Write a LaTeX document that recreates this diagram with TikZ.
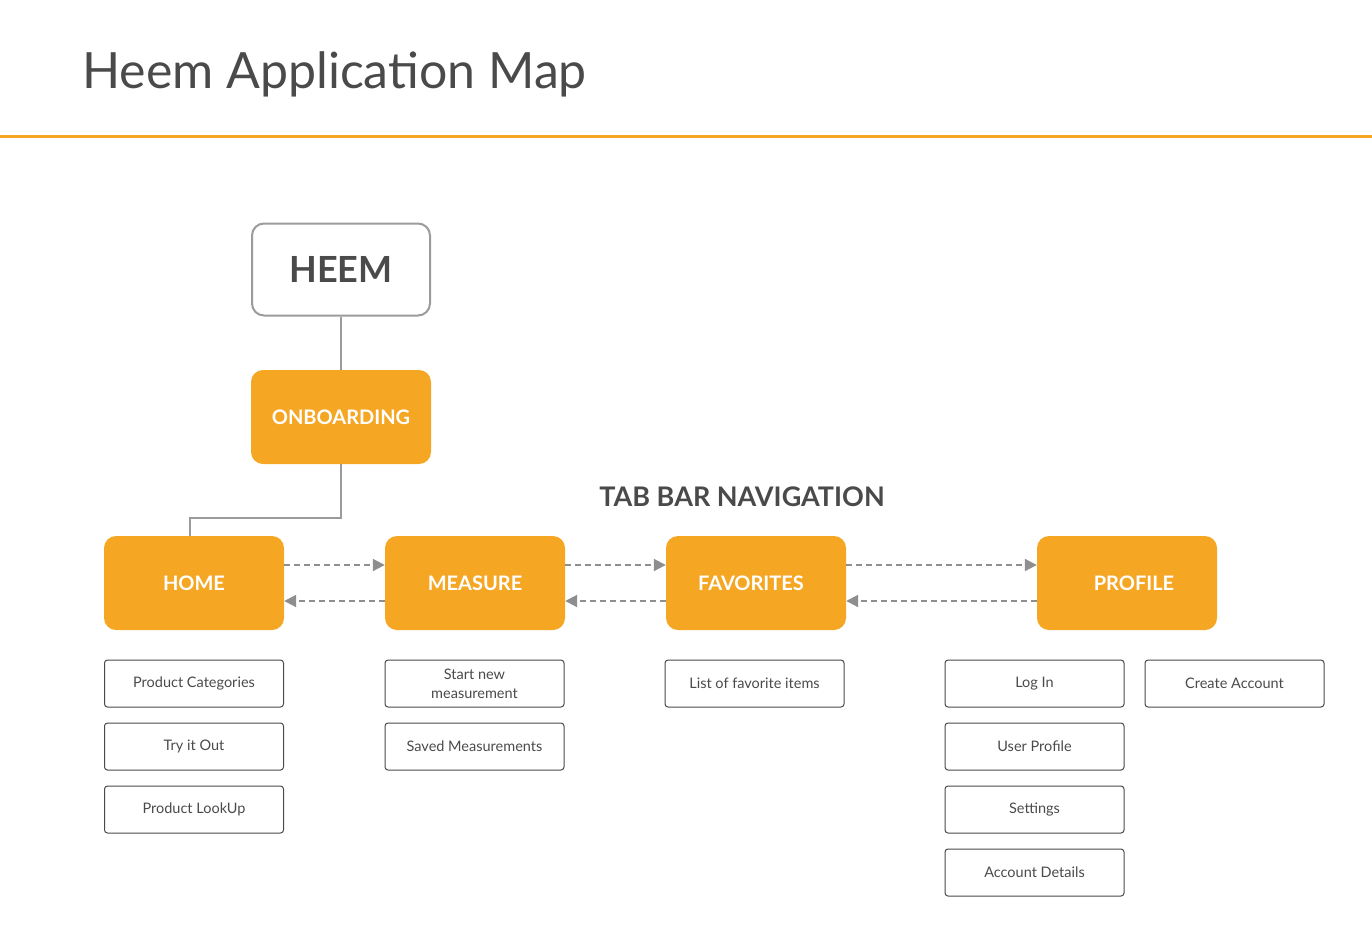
\documentclass[tikz,border=0pt]{standalone}
\usepackage{fontspec}
\setmainfont{Lato}
\usetikzlibrary{arrows.meta}
\definecolor{heemorange}{HTML}{F5A623}
\definecolor{heemgray}{HTML}{4A4A4A}
\definecolor{linegray}{HTML}{8E8E8E}
\definecolor{framegray}{HTML}{9B9B9B}
\begin{document}
\begin{tikzpicture}[x=1pt, y=-1pt]
        \tikzset{
            tab/.style={
                    rectangle,
                    rounded corners=12pt,
                    fill=heemorange,
                    text=white,
                    minimum width=180pt,
                    minimum height=94pt,
                    font=\fontsize{20}{24}\selectfont\bfseries,
                },
            page/.style={
                    rectangle,
                    rounded corners=3pt,
                    draw=heemgray,
                    line width=1pt,
                    minimum width=179pt,
                    minimum height=47pt,
                    align=center,
                    text=heemgray,
                    font=\fontsize{14.5}{19}\selectfont,
                },
            link/.style={framegray, line width=2pt},
            tabswitch/.style={-{Triangle[length=12pt, width=12pt]}, linegray, line width=2pt, dash pattern=on 6pt off 4pt},
        }
        \useasboundingbox (0, 0) rectangle (1372, 926);
        % \draw (0, 0) grid[step=100] (1372, 926);
        \node[anchor=base west, inner sep=0pt, text=heemgray, font=\fontsize{50}{56}\selectfont] (title) at (82, 88) {Heem Application Map};
        \draw[heemorange, line width=3pt] (0, 136) -- (1372, 136);
        \node[rectangle, rounded corners=12pt, draw=framegray, line width=2pt, fill=white, minimum width=178pt, minimum height=92pt,
              text=heemgray, font=\fontsize{36}{40}\selectfont\bfseries] (heem) at (341, 269.5) {HEEM};
        \node[tab] (onb) at (341, 417) {ONBOARDING};
        \node[text=heemgray, font=\fontsize{27}{32}\selectfont\bfseries] (tabbar) at (742, 497) {TAB BAR NAVIGATION};
        \node[tab] (home) at (194, 583) {HOME};
        \node[tab] (meas) at (475, 583) {MEASURE};
        \node[tab] (fav) at (756, 583) {FAVORITES\hspace*{10pt}};
        \node[tab] (prof) at (1127, 583) {\hspace*{14pt}PROFILE};
        \node[page] (cat) at (194, 683.5) {Product Categories};
        \node[page] (try) at (194, 746.5) {Try it Out};
        \node[page] (look) at (194, 809.5) {Product LookUp};
        \node[page] (start) at (474.5, 683.5) {Start new\\measurement};
        \node[page] (saved) at (474.5, 746.5) {Saved Measurements};
        \node[page] (list) at (754.5, 683.5) {List of favorite items};
        \node[page] (login) at (1034.5, 683.5) {Log In};
        \node[page] (user) at (1034.5, 746.5) {User Profile};
        \node[page] (set) at (1034.5, 809.5) {Settings};
        \node[page] (acct) at (1034.5, 872.5) {Account Details};
        \node[page] (create) at (1234.5, 683.5) {Create Account};
        \draw[link] (heem) -- (onb);
        \draw[link] (onb.south) -- ++(0, 54) -| ([xshift=-4pt]home.north);
        \draw[tabswitch] ([yshift=18pt]home.east) -- ([yshift=18pt]meas.west);
        \draw[tabswitch] ([yshift=-18pt]meas.west) -- ([yshift=-18pt]home.east);
        \draw[tabswitch] ([yshift=18pt]meas.east) -- ([yshift=18pt]fav.west);
        \draw[tabswitch] ([yshift=-18pt]fav.west) -- ([yshift=-18pt]meas.east);
        \draw[tabswitch] ([yshift=18pt]fav.east) -- ([yshift=18pt]prof.west);
        \draw[tabswitch] ([yshift=-18pt]prof.west) -- ([yshift=-18pt]fav.east);
    \end{tikzpicture}
\end{document}
